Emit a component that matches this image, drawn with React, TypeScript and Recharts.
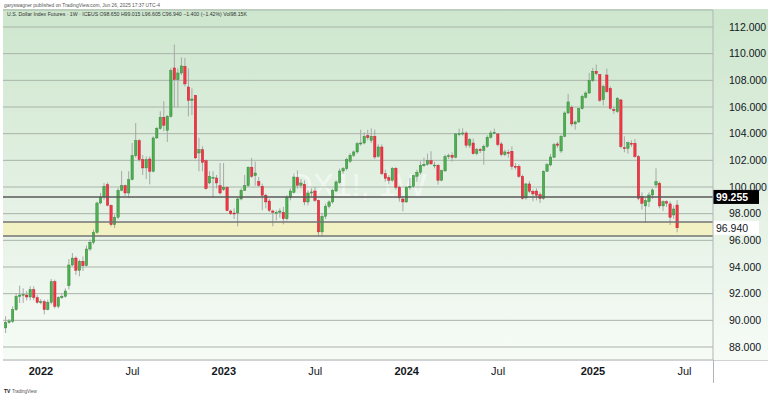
import React from 'react';
import {
  ComposedChart,
  Bar,
  XAxis,
  YAxis,
  CartesianGrid,
  ReferenceLine,
  ReferenceArea,
} from 'recharts';

// Week index 0 = first weekly bar of 2022 (Jan 3, 2022); first candle is 10 weeks earlier.
const firstWeek = -10;

const opens = [
  89.43, 89.85, 89.93, 90.8, 91.8, 91.9, 91.9, 91.75, 92.3, 91.7,
  91.35, 91.4, 90.8, 91.35, 92.9, 91.05, 91.7, 91.8, 92.6, 94.15,
  94.67, 93.75, 94.42, 94.1, 95.35, 95.85, 96.6, 98.8, 99.25, 100.18,
  98.63, 97.18, 97.73, 99.75, 100.1, 99.55, 100.55, 102.35, 103.48, 102.05,
  101.43, 102.1, 101.18, 103.68, 104.38, 105.23, 104.25, 105.3, 108.93, 108.05,
  108.55, 109.05, 107.5, 106.5, 106.88, 102.55, 102.8, 101.97, 100.3, 100.7,
  100.68, 100.1, 99.8, 99.97, 98.2, 98.05, 98.05, 99.1, 99.75, 100.1,
  101.48, 100.85, 100.4, 100.05, 99.38, 98.95, 98.2, 98.05, 98.1, 98.1,
  97.62, 99.2, 99.6, 100.7, 100.13, 100.2, 98.88, 99.55, 99.7, 99.0,
  96.63, 97.8, 98.55, 98.88, 99.7, 100.33, 101.2, 101.38, 101.93, 102.38,
  102.63, 103.25, 103.3, 103.85, 103.5, 103.8, 102.3, 103.0, 101.0, 100.7,
  100.5, 101.4, 99.98, 99.1, 98.88, 99.98, 100.05, 100.8, 101.1, 101.6,
  101.7, 101.98, 101.6, 101.63, 100.5, 101.2, 102.3, 102.38, 102.23, 103.95,
  104.0, 104.05, 103.13, 103.3, 102.5, 102.8, 102.73, 103.05, 103.73, 104.05,
  103.98, 103.23, 102.43, 102.6, 102.68, 101.55, 101.55, 100.8, 99.18, 100.23,
  99.68, 99.7, 99.43, 99.13, 101.18, 101.65, 102.23, 103.23, 102.7, 103.8,
  105.55, 105.98, 104.73, 104.88, 105.88, 106.73, 107.05, 107.98, 108.68, 108.43,
  106.55, 108.4, 107.4, 105.8, 105.65, 106.53, 102.95, 102.9, 103.28, 103.28,
  102.28, 99.28, 98.58, 98.9, 99.4, 100.15, 100.28, 98.58, 98.9, 98.73,
  97.9, 98.65,
];

const highs = [
  90.3, 90.1, 91.05, 92.0, 92.6, 92.4, 92.2, 92.55, 92.55, 91.9,
  91.6, 91.55, 91.55, 93.1, 93.05, 91.8, 92.0, 92.4, 94.6, 95.05,
  94.8, 94.55, 94.8, 95.6, 96.05, 96.8, 98.9, 99.55, 100.3, 100.35,
  98.68, 97.93, 99.93, 101.2, 100.18, 101.18, 103.3, 104.8, 103.6, 102.4,
  102.3, 102.3, 103.8, 104.5, 105.68, 106.43, 105.4, 108.93, 110.68, 108.9,
  109.73, 109.68, 108.9, 107.4, 106.9, 103.68, 103.05, 102.05, 101.18, 101.18,
  100.9, 101.8, 101.8, 100.05, 98.3, 98.4, 99.2, 99.9, 100.9, 101.55,
  102.18, 101.9, 100.75, 100.25, 99.5, 99.12, 98.3, 98.25, 98.4, 98.5,
  99.38, 99.88, 101.0, 101.25, 100.6, 100.5, 99.75, 99.9, 100.0, 99.05,
  98.0, 98.75, 99.0, 99.88, 100.5, 101.38, 101.5, 102.2, 102.55, 102.75,
  103.38, 104.3, 104.1, 104.3, 104.4, 104.3, 103.2, 103.2, 101.3, 100.9,
  101.5, 101.5, 100.1, 99.3, 100.05, 100.68, 100.93, 101.3, 101.93, 102.2,
  102.5, 102.68, 101.9, 101.73, 101.3, 102.43, 102.5, 102.6, 104.05, 104.38,
  104.4, 104.18, 103.68, 103.63, 102.93, 102.93, 103.18, 103.88, 104.23, 104.38,
  104.05, 103.38, 102.8, 102.8, 103.05, 101.8, 101.7, 100.93, 100.3, 100.43,
  99.8, 99.9, 99.6, 101.25, 101.8, 102.48, 103.3, 103.38, 103.93, 105.68,
  106.98, 106.13, 104.98, 105.93, 106.93, 107.18, 108.55, 108.93, 109.18, 108.48,
  107.68, 108.88, 107.55, 106.0, 106.75, 106.6, 103.8, 103.4, 103.5, 103.6,
  102.4, 99.6, 99.2, 99.6, 99.9, 101.4, 100.4, 99.0, 99.0, 98.9,
  98.6, 99.015,
];

const lows = [
  89.05, 89.75, 89.8, 90.7, 91.3, 91.3, 91.5, 91.5, 91.5, 91.25,
  91.2, 90.45, 90.75, 91.2, 90.9, 90.9, 91.6, 91.7, 92.3, 94.05,
  93.4, 93.3, 93.7, 94.05, 95.2, 95.7, 96.5, 98.7, 99.05, 98.55,
  97.05, 96.93, 97.55, 99.68, 99.3, 99.18, 100.5, 102.2, 101.9, 100.9,
  100.6, 100.2, 101.1, 103.6, 104.3, 104.18, 103.38, 105.2, 105.98, 105.98,
  108.4, 107.55, 105.3, 105.4, 102.1, 101.18, 101.18, 99.8, 100.2, 99.18,
  99.9, 99.43, 99.7, 98.18, 97.9, 97.6, 97.05, 99.0, 99.7, 100.0,
  100.68, 100.1, 100.0, 98.25, 98.4, 98.12, 97.05, 97.5, 97.7, 97.2,
  97.5, 99.0, 99.5, 99.88, 99.9, 98.63, 98.63, 99.3, 98.88, 96.3,
  96.3, 97.6, 98.4, 98.75, 99.63, 100.25, 101.0, 101.25, 101.8, 102.25,
  102.5, 103.1, 103.2, 103.5, 103.3, 102.1, 102.2, 100.9, 100.4, 100.2,
  100.4, 99.8, 98.9, 98.18, 98.8, 99.8, 99.93, 100.4, 100.93, 101.5,
  101.6, 101.68, 101.4, 100.18, 100.43, 101.18, 102.1, 101.9, 102.15, 103.8,
  103.85, 102.93, 102.93, 102.43, 102.38, 102.55, 101.68, 102.93, 103.63, 103.98,
  103.05, 102.3, 102.3, 102.2, 101.3, 101.3, 100.68, 99.05, 99.05, 99.55,
  98.93, 99.0, 98.8, 99.05, 101.13, 101.55, 102.18, 102.93, 102.55, 103.73,
  105.48, 104.55, 104.3, 104.8, 105.8, 106.63, 106.98, 107.88, 108.38, 106.38,
  106.13, 107.05, 105.8, 105.5, 105.55, 102.9, 102.6, 102.5, 103.0, 102.2,
  99.0, 98.3, 97.3, 98.5, 99.1, 99.95, 98.4, 98.2, 98.5, 97.15,
  97.6, 96.605,
];

const closes = [
  89.85, 89.95, 90.8, 91.8, 91.9, 91.95, 91.75, 92.3, 91.7, 91.35,
  91.4, 90.8, 91.35, 92.9, 91.05, 91.7, 91.8, 92.2, 94.15, 94.67,
  93.75, 94.42, 94.1, 95.35, 95.85, 96.6, 98.8, 99.25, 100.05, 98.63,
  97.18, 97.73, 99.75, 100.1, 99.55, 100.55, 102.35, 103.48, 102.05, 101.43,
  102.05, 101.18, 103.68, 104.38, 105.23, 104.63, 105.3, 108.73, 108.05, 108.55,
  109.08, 107.73, 106.48, 106.6, 102.18, 102.8, 101.85, 99.88, 100.8, 100.72,
  100.3, 99.55, 99.98, 98.23, 98.0, 97.98, 99.1, 99.75, 100.1, 101.48,
  100.8, 101.05, 100.13, 99.38, 98.88, 98.25, 98.1, 98.1, 98.2, 97.62,
  99.2, 99.7, 100.75, 100.13, 100.3, 98.88, 99.55, 99.63, 99.0, 96.63,
  97.8, 98.55, 98.88, 99.75, 100.38, 101.2, 101.38, 102.05, 102.38, 102.63,
  103.25, 103.3, 103.8, 103.7, 103.8, 102.25, 103.0, 101.0, 100.65, 100.5,
  101.4, 99.98, 99.18, 98.88, 99.98, 100.05, 100.85, 101.1, 101.63, 101.7,
  101.98, 101.73, 101.65, 100.5, 101.23, 102.28, 102.35, 102.23, 103.98, 104.0,
  104.05, 103.13, 103.55, 102.5, 102.8, 102.73, 103.05, 103.73, 104.05, 104.1,
  103.18, 102.43, 102.63, 102.55, 101.55, 101.5, 100.8, 99.13, 100.23, 99.68,
  99.48, 99.38, 99.13, 101.18, 101.68, 102.25, 103.18, 103.13, 103.8, 105.55,
  106.38, 104.73, 104.88, 105.88, 106.8, 107.05, 107.98, 108.68, 108.5, 106.5,
  107.55, 107.15, 105.9, 105.73, 106.65, 103.03, 102.88, 103.33, 103.23, 102.28,
  99.15, 98.78, 98.98, 99.4, 99.78, 100.4, 98.58, 98.9, 98.78, 97.73,
  98.35, 96.94,
];

const priceTicks = [88, 90, 92, 94, 96, 98, 100, 102, 104, 106, 108, 110, 112];
const timeTickWeeks = [0, 26, 52, 78, 104, 130, 157, 183];
const timeTickLabels = ['2022', 'Jul', '2023', 'Jul', '2024', 'Jul', '2025', 'Jul'];

const keyLevel = 99.255;
const zoneLow = 96.33;
const zoneHigh = 97.37;
const lastClose = 96.94;

const xDomain: [number, number] = [-10.81, 191.13];
const yDomain: [number, number] = [87.025, 113.275];

const data = opens.map((o, k) => ({
  w: firstWeek + k,
  open: o,
  high: highs[k],
  low: lows[k],
  close: closes[k],
  range: [lows[k], highs[k]],
}));

const FONT = "'Liberation Sans', Arial, sans-serif";

const Candle = (props: any) => {
  const { x, y, width, height, payload } = props;
  if (x == null || y == null || !payload) return null;
  const { open, close, high, low } = payload;
  const span = high - low || 1e-6;
  const py = (v: number) => y + ((high - v) / span) * height;
  const up = close >= open;
  const cx = x + width / 2;
  const top = py(Math.max(open, close));
  const bot = py(Math.min(open, close));
  const bw = width * 0.8;
  return (
    <g>
      <line x1={cx} x2={cx} y1={y} y2={y + height} stroke="#a0a0a0" strokeWidth={0.9} />
      <rect
        x={cx - bw / 2}
        y={top}
        width={bw}
        height={Math.max(bot - top, 1)}
        fill={up ? '#4caf50' : '#f23645'}
        stroke={up ? '#2e7d32' : '#b71c2a'}
        strokeWidth={0.4}
      />
    </g>
  );
};

const PriceTag = (props: any) => {
  const { viewBox, text, bg, fg, bold } = props;
  if (!viewBox) return null;
  const x = viewBox.x + viewBox.width;
  const y = viewBox.y;
  return (
    <g>
      <rect x={x} y={y - 7} width={46} height={14} fill={bg} />
      <text
        x={x + 3}
        y={y}
        dy="0.36em"
        fontSize={10.5}
        fontWeight={bold ? 700 : 400}
        fill={fg}
        fontFamily={FONT}
      >
        {text}
      </text>
    </g>
  );
};

const TimeTick = (props: any) => {
  const { x, y, payload } = props;
  const idx = timeTickWeeks.indexOf(payload.value);
  const label = idx >= 0 ? timeTickLabels[idx] : '';
  const isYear = label !== 'Jul';
  return (
    <text
      x={x}
      y={y}
      dy="0.71em"
      textAnchor="middle"
      fontSize={11}
      fontWeight={isYear ? 700 : 400}
      fill="#131722"
      fontFamily={FONT}
    >
      {label}
    </text>
  );
};

export default function App() {
  return (
    <div style={{ position: 'absolute', left: 0, top: 0, width: 768, height: 398, background: '#ffffff', fontFamily: FONT }}>
      <div
        style={{
          position: 'absolute',
          left: 3,
          top: 9,
          width: 765,
          height: 351,
          background: 'linear-gradient(to bottom, #cde6cd 0%, #e2f0e2 50%, #f6fbf6 100%)',
        }}
      />
      <svg style={{ position: 'absolute', left: 0, top: 0 }} width={768} height={398}>
        <text x={358} y={196} textAnchor="middle" fontSize={32} fill="#ffffff" fillOpacity={0.5} fontFamily={FONT}>
          DX1!, 1W
        </text>
      </svg>
      <div style={{ position: 'absolute', left: 0, top: 0 }}>
        <ComposedChart width={768} height={398} data={data} margin={{ top: 10, right: 0, bottom: 15, left: 3 }}>
          <CartesianGrid horizontal vertical={false} stroke="#a9b4a9" strokeWidth={1} />
          <XAxis
            dataKey="w"
            type="number"
            domain={xDomain}
            allowDataOverflow
            ticks={timeTickWeeks}
            interval={0}
            tick={<TimeTick />}
            tickLine={false}
            tickMargin={1}
            axisLine={{ stroke: '#cfd3d6' }}
            height={23}
          />
          <YAxis
            orientation="right"
            type="number"
            domain={yDomain}
            allowDataOverflow
            ticks={priceTicks}
            interval={0}
            width={55}
            tickLine={false}
            tickMargin={10}
            axisLine={{ stroke: '#b2b5b8' }}
            tick={{ fontSize: 10.5, fill: '#131722', fontFamily: FONT }}
            tickFormatter={(v: number) => v.toFixed(3)}
          />
          <ReferenceArea y1={zoneLow} y2={zoneHigh} fill="#f2f1c3" fillOpacity={1} stroke="none" />
          <ReferenceLine y={zoneHigh} stroke="#737373" strokeWidth={1.5} />
          <ReferenceLine y={zoneLow} stroke="#737373" strokeWidth={1.5} />
          <ReferenceLine
            y={keyLevel}
            stroke="#5a5a5a"
            strokeWidth={1.5}
            label={<PriceTag text={keyLevel.toFixed(3)} bg="#000000" fg="#ffffff" bold />}
          />
          <ReferenceLine
            y={lastClose}
            stroke="none"
            label={<PriceTag text={lastClose.toFixed(3)} bg="#ffffff" fg="#131722" />}
          />
          <Bar dataKey="range" shape={<Candle />} barSize={3} isAnimationActive={false} />
        </ComposedChart>
      </div>
      <svg style={{ position: 'absolute', left: 0, top: 0, pointerEvents: 'none' }} width={768} height={398}>
        <text x={4} y={7} fontSize={4.9} fill="#555" fontFamily={FONT}>
          garyswagner published on TradingView.com, Jun 26, 2025 17:37 UTC-4
        </text>
        <text x={7} y={16} fontSize={5.2} fill="#333" fontFamily={FONT}>
          U.S. Dollar Index Futures · 1W · ICEUS  O98.650  H99.015  L96.605  C96.940  −1.400 (−1.42%)  Vol98.15K
        </text>
        <line x1={3} x2={768} y1={360.5} y2={360.5} stroke="#cfd3d6" />
        <line x1={713.5} x2={713.5} y1={360} y2={383} stroke="#b2b5b8" />
        <text x={4} y={393} fontSize={5} fontWeight={700} fill="#131722" fontFamily={FONT}>
          TV
        </text>
        <text x={12} y={393} fontSize={4.5} fill="#555" fontFamily={FONT}>
          TradingView
        </text>
      </svg>
    </div>
  );
}
